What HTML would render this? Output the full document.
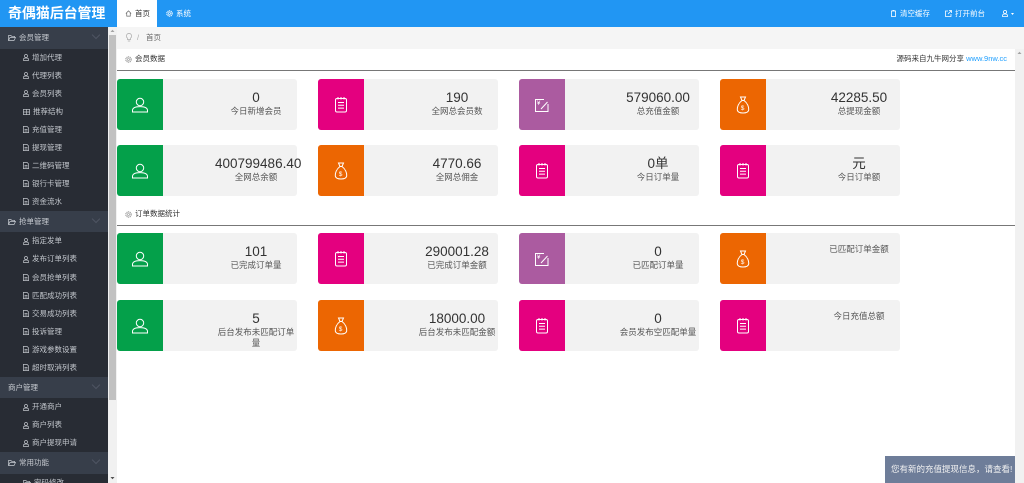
<!DOCTYPE html>
<html><head><meta charset="utf-8">
<style>
*{margin:0;padding:0;box-sizing:border-box}
html,body{width:1024px;height:483px;overflow:hidden;background:#fff;font-family:"Liberation Sans","Noto Sans CJK SC",sans-serif;position:relative}
.abs{position:absolute}
#top{left:0;top:0;width:1024px;height:27px;background:#2196f3}
#logo{left:0;top:0;width:117px;height:27px;background:#2196f3;color:#fff;font-weight:bold;font-size:14px;line-height:27px;padding-left:8px;white-space:nowrap;letter-spacing:-0.1px}
#tab1{left:117px;top:0;width:40px;height:27px;background:#fff;color:#333;font-size:7.5px;line-height:27px;padding-left:8px;white-space:nowrap}
.hdr{font-size:7.5px;color:#fff;line-height:27px;top:0;white-space:nowrap}
#side{left:0;top:27px;width:108px;height:456px;background:#282c34;overflow:hidden}
.grp{height:21.5px;background:#373e4a;color:#c8ccd2;font-size:7.5px;line-height:21.5px;padding-left:8px;position:relative;white-space:nowrap}
.grp .chev{position:absolute;right:9px;top:5px;width:6px;height:6px;border-right:0.6px solid #4e5563;border-bottom:0.6px solid #4e5563;transform:rotate(45deg)}
.it{height:18.05px;color:#c2c6cc;font-size:7.5px;line-height:18px;padding-left:23px;white-space:nowrap;display:flex;align-items:center}
.it svg{margin-right:3px;flex:none}
.grp svg{vertical-align:-1px;margin-right:3px}
#sb{left:108px;top:27px;width:9px;height:456px;background:#f1f1f1}
#sbt{left:109px;top:35px;width:7px;height:365px;background:#c1c1c1}
#crumb{left:117px;top:27px;width:907px;height:22px;background:#f5f5f5}
#rsb{left:1015px;top:49px;width:9px;height:434px;background:#f1f1f1}
.sec{font-size:7.5px;color:#333;white-space:nowrap}
.line{left:117px;width:898px;height:1px;background:#777}
.card{position:absolute;width:180px;height:51px;background:#f2f2f2;border-radius:3px}
.ic{position:absolute;left:0;top:0;width:46px;height:51px;border-radius:3px 0 0 3px;display:flex;align-items:center;justify-content:center}
.tx{position:absolute;right:0;top:0;width:82px;padding-top:11px;text-align:center}
.n{font-size:13.5px;line-height:16px;color:#333;white-space:nowrap}
.l{font-size:8.5px;line-height:11px;color:#555}
.g{background:#04a04a}.m{background:#e4007f}.p{background:#ab5ba0}.o{background:#ec6602}
#toast{left:885px;top:456px;width:130px;height:27px;background:#6e7d99;color:#f2f2f2;font-size:8.5px;line-height:27px;padding-left:6px;white-space:nowrap}
</style></head><body>

<div id="top" class="abs"></div>
<div id="logo" class="abs">奇偶猫后台管理</div>
<div id="tab1" class="abs"><svg width="7" height="7" viewBox="0 0 8 8" style="vertical-align:-1px;margin-right:3px"><path d="M1 4 L4 1 L7 4 M2 3.5 V7 H6 V3.5" fill="none" stroke="#666" stroke-width="0.8"/></svg>首页</div>
<div class="abs hdr" style="left:166px"><svg width="7" height="7" viewBox="0 0 8 8" style="vertical-align:-1px;margin-right:3px"><circle cx="4" cy="4" r="3" fill="none" stroke="#fff" stroke-width="1.4" stroke-dasharray="1.2 0.7"/><circle cx="4" cy="4" r="1.2" fill="none" stroke="#fff" stroke-width="0.8"/></svg>系统</div>
<div class="abs hdr" style="left:891px"><svg width="5" height="7" viewBox="0 0 5 7" style="vertical-align:-1px;margin-right:4px"><rect x="0.5" y="1" width="4" height="5.5" fill="none" stroke="#fff" stroke-width="0.8"/><line x1="1.5" y1="0.4" x2="3.5" y2="0.4" stroke="#fff" stroke-width="0.8"/></svg>清空缓存</div>
<div class="abs hdr" style="left:945px"><svg width="7" height="7" viewBox="0 0 7 7" style="vertical-align:-1px;margin-right:3px"><path d="M3 1 H0.5 V6.5 H6 V4 M4 0.5 H6.5 V3 M6.5 0.5 L3 4" fill="none" stroke="#fff" stroke-width="0.8"/></svg>打开前台</div>
<div class="abs hdr" style="left:1002px"><svg width="14" height="7" viewBox="0 0 14 7" style="vertical-align:-1px"><circle cx="3" cy="2" r="1.6" fill="none" stroke="#fff" stroke-width="0.8"/><path d="M0.5 6.5 V5.5 Q0.5 4 3 4 Q5.5 4 5.5 5.5 V6.5 Z" fill="none" stroke="#fff" stroke-width="0.8"/><path d="M9 3 L12 3 L10.5 5 Z" fill="#fff"/></svg></div>

<div id="side" class="abs">
<div class="grp"><svg width="8" height="6" viewBox="0 0 8 6"><path d="M0.5 5.5 V0.5 H3 L3.6 1.3 H6.5 V2.3 M0.5 5.5 L2 2.5 H7.5 L6 5.5 Z" fill="none" stroke="#c8ccd2" stroke-width="0.7"/></svg>会员管理<span class="chev"></span></div>
<div class="it"><svg width="6" height="7" viewBox="0 0 6 7"><circle cx="3" cy="2" r="1.5" fill="none" stroke="#c2c6cc" stroke-width="0.7"/><path d="M0.5 6.5 V5.3 Q0.5 4 3 4 Q5.5 4 5.5 5.3 V6.5 Z" fill="none" stroke="#c2c6cc" stroke-width="0.7"/></svg>增加代理</div>
<div class="it"><svg width="6" height="7" viewBox="0 0 6 7"><circle cx="3" cy="2" r="1.5" fill="none" stroke="#c2c6cc" stroke-width="0.7"/><path d="M0.5 6.5 V5.3 Q0.5 4 3 4 Q5.5 4 5.5 5.3 V6.5 Z" fill="none" stroke="#c2c6cc" stroke-width="0.7"/></svg>代理列表</div>
<div class="it"><svg width="6" height="7" viewBox="0 0 6 7"><circle cx="3" cy="2" r="1.5" fill="none" stroke="#c2c6cc" stroke-width="0.7"/><path d="M0.5 6.5 V5.3 Q0.5 4 3 4 Q5.5 4 5.5 5.3 V6.5 Z" fill="none" stroke="#c2c6cc" stroke-width="0.7"/></svg>会员列表</div>
<div class="it"><svg width="7" height="6" viewBox="0 0 7 6"><rect x="0.4" y="0.4" width="6.2" height="5.2" fill="none" stroke="#c2c6cc" stroke-width="0.7"/><path d="M3.5 0.4 V5.6 M0.4 3 H6.6" stroke="#c2c6cc" stroke-width="0.7"/></svg>推荐结构</div>
<div class="it"><svg width="6" height="7" viewBox="0 0 6 7"><path d="M0.4 0.4 H4 L5.6 2 V6.6 H0.4 Z M1.5 3.5 H4.5 M1.5 5 H4.5" fill="none" stroke="#c2c6cc" stroke-width="0.7"/></svg>充值管理</div>
<div class="it"><svg width="6" height="7" viewBox="0 0 6 7"><path d="M0.4 0.4 H4 L5.6 2 V6.6 H0.4 Z M1.5 3.5 H4.5 M1.5 5 H4.5" fill="none" stroke="#c2c6cc" stroke-width="0.7"/></svg>提现管理</div>
<div class="it"><svg width="6" height="7" viewBox="0 0 6 7"><path d="M0.4 0.4 H4 L5.6 2 V6.6 H0.4 Z M1.5 3.5 H4.5 M1.5 5 H4.5" fill="none" stroke="#c2c6cc" stroke-width="0.7"/></svg>二维码管理</div>
<div class="it"><svg width="6" height="7" viewBox="0 0 6 7"><path d="M0.4 0.4 H4 L5.6 2 V6.6 H0.4 Z M1.5 3.5 H4.5 M1.5 5 H4.5" fill="none" stroke="#c2c6cc" stroke-width="0.7"/></svg>银行卡管理</div>
<div class="it"><svg width="6" height="7" viewBox="0 0 6 7"><path d="M0.4 0.4 H4 L5.6 2 V6.6 H0.4 Z M1.5 3.5 H4.5 M1.5 5 H4.5" fill="none" stroke="#c2c6cc" stroke-width="0.7"/></svg>资金流水</div>
<div class="grp"><svg width="8" height="6" viewBox="0 0 8 6"><path d="M0.5 5.5 V0.5 H3 L3.6 1.3 H6.5 V2.3 M0.5 5.5 L2 2.5 H7.5 L6 5.5 Z" fill="none" stroke="#c8ccd2" stroke-width="0.7"/></svg>抢单管理<span class="chev"></span></div>
<div class="it"><svg width="6" height="7" viewBox="0 0 6 7"><circle cx="3" cy="2" r="1.5" fill="none" stroke="#c2c6cc" stroke-width="0.7"/><path d="M0.5 6.5 V5.3 Q0.5 4 3 4 Q5.5 4 5.5 5.3 V6.5 Z" fill="none" stroke="#c2c6cc" stroke-width="0.7"/></svg>指定发单</div>
<div class="it"><svg width="6" height="7" viewBox="0 0 6 7"><circle cx="3" cy="2" r="1.5" fill="none" stroke="#c2c6cc" stroke-width="0.7"/><path d="M0.5 6.5 V5.3 Q0.5 4 3 4 Q5.5 4 5.5 5.3 V6.5 Z" fill="none" stroke="#c2c6cc" stroke-width="0.7"/></svg>发布订单列表</div>
<div class="it"><svg width="6" height="7" viewBox="0 0 6 7"><path d="M0.4 0.4 H4 L5.6 2 V6.6 H0.4 Z M1.5 3.5 H4.5 M1.5 5 H4.5" fill="none" stroke="#c2c6cc" stroke-width="0.7"/></svg>会员抢单列表</div>
<div class="it"><svg width="6" height="7" viewBox="0 0 6 7"><path d="M0.4 0.4 H4 L5.6 2 V6.6 H0.4 Z M1.5 3.5 H4.5 M1.5 5 H4.5" fill="none" stroke="#c2c6cc" stroke-width="0.7"/></svg>匹配成功列表</div>
<div class="it"><svg width="6" height="7" viewBox="0 0 6 7"><path d="M0.4 0.4 H4 L5.6 2 V6.6 H0.4 Z M1.5 3.5 H4.5 M1.5 5 H4.5" fill="none" stroke="#c2c6cc" stroke-width="0.7"/></svg>交易成功列表</div>
<div class="it"><svg width="6" height="7" viewBox="0 0 6 7"><path d="M0.4 0.4 H4 L5.6 2 V6.6 H0.4 Z M1.5 3.5 H4.5 M1.5 5 H4.5" fill="none" stroke="#c2c6cc" stroke-width="0.7"/></svg>投诉管理</div>
<div class="it"><svg width="6" height="7" viewBox="0 0 6 7"><path d="M0.4 0.4 H4 L5.6 2 V6.6 H0.4 Z M1.5 3.5 H4.5 M1.5 5 H4.5" fill="none" stroke="#c2c6cc" stroke-width="0.7"/></svg>游戏参数设置</div>
<div class="it"><svg width="6" height="7" viewBox="0 0 6 7"><path d="M0.4 0.4 H4 L5.6 2 V6.6 H0.4 Z M1.5 3.5 H4.5 M1.5 5 H4.5" fill="none" stroke="#c2c6cc" stroke-width="0.7"/></svg>超时取消列表</div>
<div class="grp">商户管理<span class="chev"></span></div>
<div class="it"><svg width="6" height="7" viewBox="0 0 6 7"><circle cx="3" cy="2" r="1.5" fill="none" stroke="#c2c6cc" stroke-width="0.7"/><path d="M0.5 6.5 V5.3 Q0.5 4 3 4 Q5.5 4 5.5 5.3 V6.5 Z" fill="none" stroke="#c2c6cc" stroke-width="0.7"/></svg>开通商户</div>
<div class="it"><svg width="6" height="7" viewBox="0 0 6 7"><circle cx="3" cy="2" r="1.5" fill="none" stroke="#c2c6cc" stroke-width="0.7"/><path d="M0.5 6.5 V5.3 Q0.5 4 3 4 Q5.5 4 5.5 5.3 V6.5 Z" fill="none" stroke="#c2c6cc" stroke-width="0.7"/></svg>商户列表</div>
<div class="it"><svg width="6" height="7" viewBox="0 0 6 7"><circle cx="3" cy="2" r="1.5" fill="none" stroke="#c2c6cc" stroke-width="0.7"/><path d="M0.5 6.5 V5.3 Q0.5 4 3 4 Q5.5 4 5.5 5.3 V6.5 Z" fill="none" stroke="#c2c6cc" stroke-width="0.7"/></svg>商户提现申请</div>
<div class="grp"><svg width="8" height="6" viewBox="0 0 8 6"><path d="M0.5 5.5 V0.5 H3 L3.6 1.3 H6.5 V2.3 M0.5 5.5 L2 2.5 H7.5 L6 5.5 Z" fill="none" stroke="#c8ccd2" stroke-width="0.7"/></svg>常用功能<span class="chev"></span></div>
<div class="it"><svg width="8" height="6" viewBox="0 0 8 6"><path d="M0.5 5.5 V0.5 H3 L3.6 1.3 H6.5 V2.3 M0.5 5.5 L2 2.5 H7.5 L6 5.5 Z" fill="none" stroke="#c2c6cc" stroke-width="0.7"/></svg>密码修改</div>
</div>
<div id="sb" class="abs"></div>
<div id="sbt" class="abs"></div>
<svg class="abs" style="left:110px;top:29px" width="5" height="4" viewBox="0 0 5 4"><path d="M0.5 3 L2.5 0.8 L4.5 3 Z" fill="#a3a3a3"/></svg>
<svg class="abs" style="left:110px;top:476px" width="5" height="4" viewBox="0 0 5 4"><path d="M0.5 1 L2.5 3.2 L4.5 1 Z" fill="#505050"/></svg>

<div id="crumb" class="abs"></div>
<svg class="abs" style="left:126px;top:33px" width="6" height="9" viewBox="0 0 6 9"><path d="M3 0.5 A2.5 2.5 0 0 1 4.6 5 V6.5 H1.4 V5 A2.5 2.5 0 0 1 3 0.5 Z M1.8 8 H4.2" fill="none" stroke="#aaa" stroke-width="0.7"/></svg>
<div class="abs sec" style="left:137px;top:33px;color:#aaa;line-height:10px">/</div>
<div class="abs sec" style="left:146px;top:33px;color:#666;line-height:10px">首页</div>

<div id="rsb" class="abs"></div>
<svg class="abs" style="left:1017px;top:51px" width="5" height="4" viewBox="0 0 5 4"><path d="M0.5 3 L2.5 0.8 L4.5 3 Z" fill="#a3a3a3"/></svg>

<!-- section 1 -->
<svg class="abs" style="left:125px;top:56px" width="7" height="7" viewBox="0 0 8 8"><circle cx="4" cy="4" r="3" fill="none" stroke="#999" stroke-width="1.4" stroke-dasharray="1.2 0.7"/><circle cx="4" cy="4" r="1.2" fill="none" stroke="#999" stroke-width="0.8"/></svg>
<div class="abs sec" style="left:135px;top:54px;line-height:10px">会员数据</div>
<div class="abs sec" style="right:17px;top:54px;line-height:10px">源码来自九牛网分享 <span style="color:#1e9fff">www.9nw.cc</span></div>
<div class="abs line" style="top:70px"></div>

<!-- section 2 -->
<svg class="abs" style="left:125px;top:211px" width="7" height="7" viewBox="0 0 8 8"><circle cx="4" cy="4" r="3" fill="none" stroke="#999" stroke-width="1.4" stroke-dasharray="1.2 0.7"/><circle cx="4" cy="4" r="1.2" fill="none" stroke="#999" stroke-width="0.8"/></svg>
<div class="abs sec" style="left:135px;top:209px;line-height:10px">订单数据统计</div>
<div class="abs line" style="top:225px"></div>

<!-- Row 1 -->
<div class="card" style="left:117px;top:79px"><div class="ic g"><svg width="18" height="16" viewBox="0 0 18 16"><circle cx="9" cy="5" r="3.7" fill="none" stroke="#fff" stroke-width="1"/><path d="M1.5 15 V13.5 C1.5 10.5 5 9.6 9 9.6 C13 9.6 16.5 10.5 16.5 13.5 V15 Z" fill="none" stroke="#fff" stroke-width="1"/></svg></div><div class="tx"><div class="n">0</div><div class="l">今日新增会员</div></div></div>
<div class="card" style="left:318px;top:79px"><div class="ic m"><svg width="14" height="17" viewBox="0 0 14 17"><rect x="1.5" y="2.5" width="11" height="13.5" rx="1.5" fill="none" stroke="#fff" stroke-width="1"/><path d="M4 6.5 H10 M4 9.3 H10 M4 12.1 H10 M4 1 V3.5 M7 1 V3.5 M10 1 V3.5" stroke="#fff" stroke-width="1"/></svg></div><div class="tx"><div class="n">190</div><div class="l">全网总会员数</div></div></div>
<div class="card" style="left:519px;top:79px"><div class="ic p"><svg width="16" height="16" viewBox="0 0 16 16"><path d="M10 2.5 H1.5 V14.5 H14 V7" fill="none" stroke="#fff" stroke-width="1"/><text x="3" y="8" font-size="6" fill="#fff" font-family="Liberation Sans">¥</text><path d="M7 12 L13.5 5" stroke="#fff" stroke-width="1"/></svg></div><div class="tx"><div class="n">579060.00</div><div class="l">总充值金额</div></div></div>
<div class="card" style="left:720px;top:79px"><div class="ic o"><svg width="14" height="18" viewBox="0 0 14 18"><path d="M4.5 1 L9.5 1 L8 4.5 H6 Z M6 4.5 C2.5 7 1 11 1.3 14 Q1.8 17 7 17 Q12.2 17 12.7 14 C13 11 11.5 7 8 4.5" fill="none" stroke="#fff" stroke-width="1"/><text x="4.8" y="14" font-size="6.5" fill="#fff" font-family="Liberation Sans">$</text></svg></div><div class="tx"><div class="n">42285.50</div><div class="l">总提现金额</div></div></div>

<!-- Row 2 -->
<div class="card" style="left:117px;top:145px"><div class="ic g"><svg width="18" height="16" viewBox="0 0 18 16"><circle cx="9" cy="5" r="3.7" fill="none" stroke="#fff" stroke-width="1"/><path d="M1.5 15 V13.5 C1.5 10.5 5 9.6 9 9.6 C13 9.6 16.5 10.5 16.5 13.5 V15 Z" fill="none" stroke="#fff" stroke-width="1"/></svg></div><div class="tx"><div class="n">400799486.40</div><div class="l">全网总余额</div></div></div>
<div class="card" style="left:318px;top:145px"><div class="ic o"><svg width="14" height="18" viewBox="0 0 14 18"><path d="M4.5 1 L9.5 1 L8 4.5 H6 Z M6 4.5 C2.5 7 1 11 1.3 14 Q1.8 17 7 17 Q12.2 17 12.7 14 C13 11 11.5 7 8 4.5" fill="none" stroke="#fff" stroke-width="1"/><text x="4.8" y="14" font-size="6.5" fill="#fff" font-family="Liberation Sans">$</text></svg></div><div class="tx"><div class="n">4770.66</div><div class="l">全网总佣金</div></div></div>
<div class="card" style="left:519px;top:145px"><div class="ic m"><svg width="14" height="17" viewBox="0 0 14 17"><rect x="1.5" y="2.5" width="11" height="13.5" rx="1.5" fill="none" stroke="#fff" stroke-width="1"/><path d="M4 6.5 H10 M4 9.3 H10 M4 12.1 H10 M4 1 V3.5 M7 1 V3.5 M10 1 V3.5" stroke="#fff" stroke-width="1"/></svg></div><div class="tx"><div class="n">0单</div><div class="l">今日订单量</div></div></div>
<div class="card" style="left:720px;top:145px"><div class="ic m"><svg width="14" height="17" viewBox="0 0 14 17"><rect x="1.5" y="2.5" width="11" height="13.5" rx="1.5" fill="none" stroke="#fff" stroke-width="1"/><path d="M4 6.5 H10 M4 9.3 H10 M4 12.1 H10 M4 1 V3.5 M7 1 V3.5 M10 1 V3.5" stroke="#fff" stroke-width="1"/></svg></div><div class="tx"><div class="n">元</div><div class="l">今日订单额</div></div></div>

<!-- Row 3 -->
<div class="card" style="left:117px;top:233px"><div class="ic g"><svg width="18" height="16" viewBox="0 0 18 16"><circle cx="9" cy="5" r="3.7" fill="none" stroke="#fff" stroke-width="1"/><path d="M1.5 15 V13.5 C1.5 10.5 5 9.6 9 9.6 C13 9.6 16.5 10.5 16.5 13.5 V15 Z" fill="none" stroke="#fff" stroke-width="1"/></svg></div><div class="tx"><div class="n">101</div><div class="l">已完成订单量</div></div></div>
<div class="card" style="left:318px;top:233px"><div class="ic m"><svg width="14" height="17" viewBox="0 0 14 17"><rect x="1.5" y="2.5" width="11" height="13.5" rx="1.5" fill="none" stroke="#fff" stroke-width="1"/><path d="M4 6.5 H10 M4 9.3 H10 M4 12.1 H10 M4 1 V3.5 M7 1 V3.5 M10 1 V3.5" stroke="#fff" stroke-width="1"/></svg></div><div class="tx"><div class="n">290001.28</div><div class="l">已完成订单金额</div></div></div>
<div class="card" style="left:519px;top:233px"><div class="ic p"><svg width="16" height="16" viewBox="0 0 16 16"><path d="M10 2.5 H1.5 V14.5 H14 V7" fill="none" stroke="#fff" stroke-width="1"/><text x="3" y="8" font-size="6" fill="#fff" font-family="Liberation Sans">¥</text><path d="M7 12 L13.5 5" stroke="#fff" stroke-width="1"/></svg></div><div class="tx"><div class="n">0</div><div class="l">已匹配订单量</div></div></div>
<div class="card" style="left:720px;top:233px"><div class="ic o"><svg width="14" height="18" viewBox="0 0 14 18"><path d="M4.5 1 L9.5 1 L8 4.5 H6 Z M6 4.5 C2.5 7 1 11 1.3 14 Q1.8 17 7 17 Q12.2 17 12.7 14 C13 11 11.5 7 8 4.5" fill="none" stroke="#fff" stroke-width="1"/><text x="4.8" y="14" font-size="6.5" fill="#fff" font-family="Liberation Sans">$</text></svg></div><div class="tx"><div class="n"></div><div class="l">已匹配订单金额</div></div></div>

<!-- Row 4 -->
<div class="card" style="left:117px;top:300px"><div class="ic g"><svg width="18" height="16" viewBox="0 0 18 16"><circle cx="9" cy="5" r="3.7" fill="none" stroke="#fff" stroke-width="1"/><path d="M1.5 15 V13.5 C1.5 10.5 5 9.6 9 9.6 C13 9.6 16.5 10.5 16.5 13.5 V15 Z" fill="none" stroke="#fff" stroke-width="1"/></svg></div><div class="tx"><div class="n">5</div><div class="l">后台发布未匹配订单量</div></div></div>
<div class="card" style="left:318px;top:300px"><div class="ic o"><svg width="14" height="18" viewBox="0 0 14 18"><path d="M4.5 1 L9.5 1 L8 4.5 H6 Z M6 4.5 C2.5 7 1 11 1.3 14 Q1.8 17 7 17 Q12.2 17 12.7 14 C13 11 11.5 7 8 4.5" fill="none" stroke="#fff" stroke-width="1"/><text x="4.8" y="14" font-size="6.5" fill="#fff" font-family="Liberation Sans">$</text></svg></div><div class="tx"><div class="n">18000.00</div><div class="l">后台发布未匹配金额</div></div></div>
<div class="card" style="left:519px;top:300px"><div class="ic m"><svg width="14" height="17" viewBox="0 0 14 17"><rect x="1.5" y="2.5" width="11" height="13.5" rx="1.5" fill="none" stroke="#fff" stroke-width="1"/><path d="M4 6.5 H10 M4 9.3 H10 M4 12.1 H10 M4 1 V3.5 M7 1 V3.5 M10 1 V3.5" stroke="#fff" stroke-width="1"/></svg></div><div class="tx"><div class="n">0</div><div class="l">会员发布空匹配单量</div></div></div>
<div class="card" style="left:720px;top:300px"><div class="ic m"><svg width="14" height="17" viewBox="0 0 14 17"><rect x="1.5" y="2.5" width="11" height="13.5" rx="1.5" fill="none" stroke="#fff" stroke-width="1"/><path d="M4 6.5 H10 M4 9.3 H10 M4 12.1 H10 M4 1 V3.5 M7 1 V3.5 M10 1 V3.5" stroke="#fff" stroke-width="1"/></svg></div><div class="tx"><div class="n"></div><div class="l">今日充值总额</div></div></div>

<div id="toast" class="abs">您有新的充值提现信息，请查看!</div>
</body></html>
